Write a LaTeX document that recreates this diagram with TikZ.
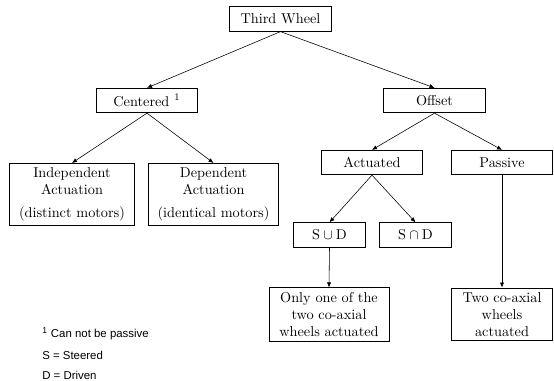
\documentclass[tikz,border=0pt]{standalone}
\usepackage{fontspec}
\newfontfamily\notefont{Liberation Sans}
\tikzset{
  box/.style={draw,line width=0.7pt,minimum height=17pt,inner sep=3pt,align=center},
  wide/.style={box,minimum width=71pt},
  note/.style={anchor=west,inner sep=0pt,font=\notefont\fontsize{8}{9}\selectfont},
  link/.style={-{Latex[length=3.5pt,width=3pt]},line width=0.4pt}
}
\usetikzlibrary{arrows.meta}
\begin{document}
\begin{tikzpicture}[x=0.7pt,y=-0.7pt]
\useasboundingbox (0,0) rectangle (554,381);
\node[wide] (third) at (280.5,19) {Third Wheel};
\node[wide] (centered) at (147,100.5) {Centered $^1$};
\node[wide] (offset) at (434.5,100.5) {Offset};
\node[box,minimum width=88pt] (indep) at (72,194.5) {Independent\\Actuation\\[4pt](distinct motors)};
\node[box,minimum width=91pt] (dep) at (213.5,194.5) {Dependent\\Actuation\\[4pt](identical motors)};
\node[wide] (actuated) at (372,162.5) {Actuated};
\node[wide] (passive) at (502,162.5) {Passive};
\node[box,minimum width=51pt] (union) at (329.5,235) {$\mathrm{S}\cup\mathrm{D}$};
\node[box,minimum width=51pt] (inter) at (415.5,235) {$\mathrm{S}\cap\mathrm{D}$};
\node[box,minimum width=84pt] (onlyone) at (329,314.5) {Only one of the\\two co-axial\\wheels actuated};
\node[box,minimum width=71pt] (twocoax) at (502,314.5) {Two co-axial\\wheels\\actuated};
\draw[link] (third.south) -- (centered.north);
\draw[link] (third.south) -- (offset.north);
\draw[link] (centered.south) -- (indep.north);
\draw[link] (centered.south) -- (dep.north);
\draw[link] (offset.south) -- (actuated.north);
\draw[link] (offset.south) -- (passive.north);
\draw[link] (actuated.south) -- (union.north);
\draw[link] (actuated.south) -- (inter.north);
\draw[link] (union.south) -- (onlyone.north);
\draw[link] (passive.south) -- (twocoax.north);
\node[note] (note1) at (42,334) {\textsuperscript{1} Can not be passive};
\node[note] (note2) at (42,355) {S = Steered};
\node[note] (note3) at (42,375) {D = Driven};
\end{tikzpicture}
\end{document}
